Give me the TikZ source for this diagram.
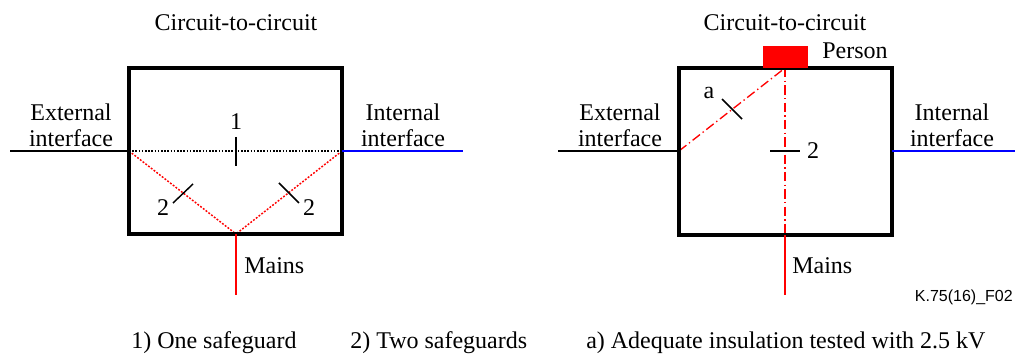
\documentclass[tikz,border=0pt]{standalone}
\usepackage{fontspec}
\setmainfont{Liberation Serif}
\newfontfamily\arialfont{Liberation Sans}
\begin{document}
\begin{tikzpicture}[x=0.75pt,y=-0.75pt,
  lbl/.style={inner sep=0pt,font=\fontsize{18}{19.5}\selectfont},
  ml/.style={lbl,align=center},
  boxline/.style={line width=2.4pt},
  wire/.style={line width=1.5pt},
  mainsw/.style={line width=1.5pt,red},
  intw/.style={line width=1.5pt,blue},
  tickm/.style={line width=1.1pt},
  dotk/.style={line width=1pt,dash pattern=on 1.2pt off 1.2pt},
  dotr/.style={line width=1.1pt,red,dash pattern=on 1.4pt off 1.2pt},
  dashdotr/.style={line width=1pt,red,dash pattern=on 7pt off 2.5pt on 1pt off 2.5pt},
]
\useasboundingbox (0,0) rectangle (1015,359);
% ---------------- left panel
\coordinate (L1) at (129,68);
\coordinate (L2) at (342,234);
\coordinate (Lext) at (129,151);
\coordinate (Lint) at (342,151);
\coordinate (Lmains) at (236,234);
\coordinate (LextEnd) at (10,151);
\coordinate (LintEnd) at (463,151);
\coordinate (LmainsEnd) at (236,295);
\draw[dotk] (Lext) -- (Lint);
\draw[dotr] (Lext) -- (Lmains);
\draw[dotr] (Lint) -- (Lmains);
\draw[boxline] (L1) rectangle (L2);
\draw[wire] (LextEnd) -- (Lext);
\draw[intw] (Lint) -- (LintEnd);
\draw[mainsw] (Lmains) -- (LmainsEnd);
\coordinate (t1a) at (236,137); \coordinate (t1b) at (236,166);
\draw[tickm] (t1a) -- (t1b);
\coordinate (t2a) at (173,203); \coordinate (t2b) at (193,184);
\draw[tickm] (t2a) -- (t2b);
\coordinate (t3a) at (279,183); \coordinate (t3b) at (299,203);
\draw[tickm] (t3a) -- (t3b);
\node[lbl] (Ltitle) at (236,23) {Circuit-to-circuit};
\node[ml] (Lexttxt) at (71,125) {External\\interface};
\node[ml] (Linttxt) at (403,125) {Internal\\interface};
\node[lbl] (Lone) at (236,122) {1};
\node[lbl] (Ltwoa) at (163,208) {2};
\node[lbl] (Ltwob) at (309,208) {2};
\node[lbl,anchor=west] (Lmainstxt) at (244,266) {Mains};
% ---------------- right panel
\coordinate (R1) at (679,68);
\coordinate (R2) at (892,235);
\coordinate (Rext) at (679,151);
\coordinate (Rint) at (892,151);
\coordinate (Rtop) at (785,68);
\coordinate (Rmains) at (785,235);
\coordinate (RextEnd) at (558,151);
\coordinate (RintEnd) at (1015,151);
\coordinate (RmainsEnd) at (785,295);
\draw[dashdotr] (Rext) -- (Rtop);
\draw[dashdotr] (Rtop) -- (Rmains);
\draw[boxline] (R1) rectangle (R2);
\fill[red] (763,46) rectangle (808,68);
\draw[wire] (RextEnd) -- (Rext);
\draw[intw] (Rint) -- (RintEnd);
\draw[mainsw] (Rmains) -- (RmainsEnd);
\coordinate (ta1) at (722,99); \coordinate (ta2) at (742,119);
\draw[tickm] (ta1) -- (ta2);
\coordinate (tb1) at (770,151); \coordinate (tb2) at (800,151);
\draw[tickm] (tb1) -- (tb2);
\node[lbl] (Rtitle) at (785,23) {Circuit-to-circuit};
\node[lbl,anchor=west] (Rperson) at (822,51) {Person};
\node[ml] (Rexttxt) at (620,125) {External\\interface};
\node[ml] (Rinttxt) at (952,125) {Internal\\interface};
\node[lbl] (Ra) at (709,93) {a};
\node[lbl] (Rtwo) at (813,151) {2};
\node[lbl,anchor=west] (Rmainstxt) at (792,266) {Mains};
\node[inner sep=0pt,anchor=base east,font=\arialfont\fontsize{12}{14}\selectfont] (fig) at (1013,302) {K.75(16)\_F02};
% ---------------- legend
\node[lbl,anchor=base west] (leg1) at (131,349) {1) One safeguard};
\node[lbl,anchor=base west] (leg2) at (350,349) {2) Two safeguards};
\node[lbl,anchor=base west] (leg3) at (586,349) {a) Adequate insulation tested with 2.5 kV};
\end{tikzpicture}
\end{document}
